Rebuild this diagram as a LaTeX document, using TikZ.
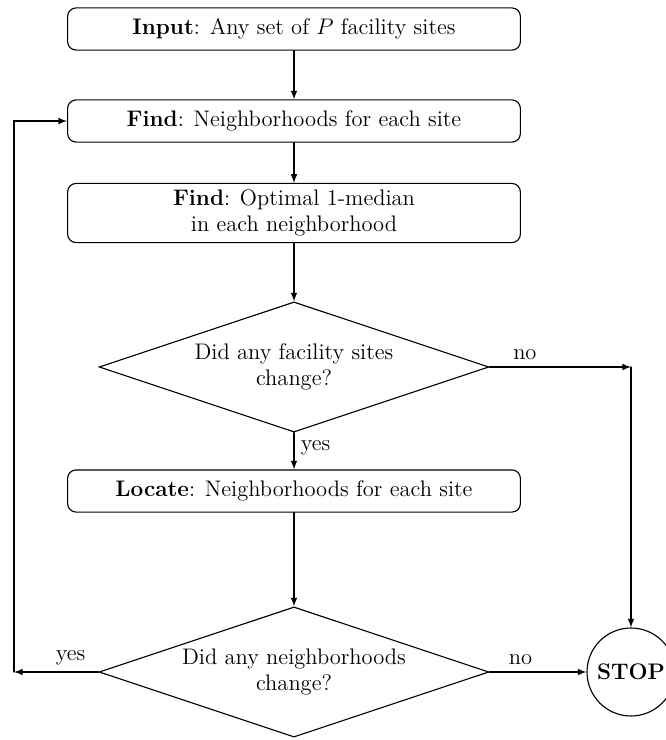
\documentclass[tikz,border=0pt]{standalone}
\usepackage{amsmath,amssymb}
\usepackage{tikz}
\usetikzlibrary{shapes.geometric}
\tikzset{
  stepbox/.style={draw,rounded corners=1.6mm,minimum width=84.9mm,minimum height=7.9mm,align=center},
  choice/.style={draw,diamond,aspect=3,minimum width=73.1mm,minimum height=24.4mm,align=center,inner sep=0pt},
  endnode/.style={draw,circle,minimum size=16.5mm,inner sep=0pt,font=\large\bfseries},
}

\begin{document}
\begin{tikzpicture}[x=0.1875mm,y=-0.1875mm,line cap=round,>=latex,semithick,font=\large]
  \useasboundingbox (0,0) rectangle (665,740);
  % main column
  \node[stepbox] (input) at (294,29) {\textbf{Input}: Any set of $P$ facility sites};
  \node[stepbox] (find) at (294,121) {\textbf{Find}: Neighborhoods for each site};
  \node[stepbox,minimum height=10.7mm] (median) at (294,213) {\textbf{Find}: Optimal 1-median\\in each neighborhood};
  \node[choice] (sites) at (294,367) {Did any facility sites\\change?};
  \node[stepbox] (locate) at (294,491) {\textbf{Locate}: Neighborhoods for each site};
  \node[choice] (nbhd) at (294,672) {Did any neighborhoods\\change?};
  \node[endnode] (stop) at (631,672) {STOP};
  \coordinate (corner) at (stop.north |- sites.east);
  \coordinate (back) at (14,672);
  % connectors
  \draw[->] (input) -- (find);
  \draw[->] (find) -- (median);
  \draw[->] (median) -- (sites);
  \draw[->] (sites) -- node[pos=0.4,right] {yes} (locate);
  \draw[->] (locate) -- (nbhd);
  \draw[->] (sites.east) -- node[pos=0.25,above] {no} (corner);
  \draw[->] (corner) -- (stop);
  \draw[->] (nbhd.east) -- node[pos=0.32,above] {no} (stop);
  \draw[->] (nbhd.west) -- node[pos=0.33,above] {yes} (back);
  \draw[->] (back) |- (find.west);
\end{tikzpicture}
\end{document}
